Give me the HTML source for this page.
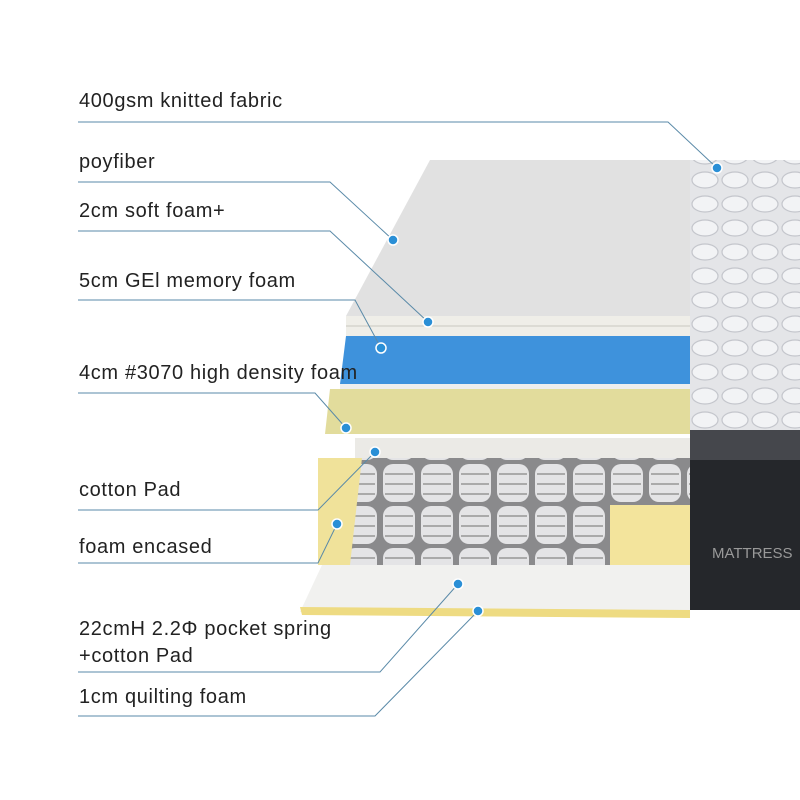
<!DOCTYPE html>
<html><head><meta charset="utf-8"><style>
body{margin:0;background:#fff}
.t{position:absolute;left:79px;font-family:"Liberation Sans",sans-serif;font-size:20px;color:#222;letter-spacing:0.65px}
</style></head><body>
<div style="position:relative;width:800px;height:800px;overflow:hidden">
<svg width="800" height="800" style="position:absolute;left:0;top:0">
<defs>
<pattern id="q" width="30" height="24" patternUnits="userSpaceOnUse">
<rect width="30" height="24" fill="#e4e5e8"/>
<ellipse cx="15" cy="12" rx="13" ry="8" fill="#f2f3f5" stroke="#c4c6cc" stroke-width="1.2"/>
</pattern>
<pattern id="s" width="38" height="42" patternUnits="userSpaceOnUse">
<rect width="38" height="42" fill="#8a8a8c"/>
<rect x="3" y="2" width="32" height="38" rx="10" fill="#e4e4e6"/>
<line x1="5" y1="12" x2="33" y2="12" stroke="#aaa" stroke-width="2"/>
<line x1="5" y1="22" x2="33" y2="22" stroke="#aaa" stroke-width="2"/>
<line x1="5" y1="32" x2="33" y2="32" stroke="#aaa" stroke-width="2"/>
</pattern>
</defs>
<rect x="690" y="160" width="110" height="275" fill="url(#q)"/>
<rect x="690" y="430" width="110" height="30" fill="#45474c"/>
<rect x="690" y="460" width="110" height="150" fill="#25272b"/>
<text x="712" y="558" font-family="Liberation Sans" font-size="15" fill="#999">MATTRESS</text>
<polygon points="430,160 690,160 690,316 346,316" fill="#e1e1e1"/>
<rect x="346" y="316" width="344" height="20" fill="#efeee8"/>
<line x1="346" y1="326" x2="690" y2="326" stroke="#c9c8c0"/>
<polygon points="346,336 690,336 690,384 340,384" fill="#3e92dc"/>
<rect x="340" y="384" width="350" height="5" fill="#eee"/>
<polygon points="330,389 690,389 690,434 325,434" fill="#e2dc9c"/>
<rect x="325" y="434" width="365" height="4" fill="#fff"/>
<rect x="355" y="438" width="335" height="20" fill="#ebeae6"/>
<rect x="350" y="458" width="340" height="130" fill="url(#s)"/>
<polygon points="318,458 362,458 350,565 318,565" fill="#f0e29a"/>
<rect x="610" y="505" width="80" height="105" fill="#f3e49c"/>
<polygon points="322,565 690,565 690,615 300,612" fill="#f1f1ef"/>
<polygon points="300,607 690,610 690,618 302,615" fill="#eedb82"/>
<g stroke="#5a8aa8" stroke-width="1" fill="none">
<polyline points="78,122 668,122 717,168"/>
<polyline points="78,182 330,182 393,240"/>
<polyline points="78,231 330,231 428,322"/>
<polyline points="78,300 355,300 381,348"/>
<polyline points="78,393 315,393 346,428"/>
<polyline points="78,510 318,510 375,452"/>
<polyline points="78,563 318,563 337,524"/>
<polyline points="78,672 380,672 458,584"/>
<polyline points="78,716 375,716 478,611"/>
</g>
<g fill="#2a8fd6" stroke="#fff" stroke-width="1.5">
<circle cx="717" cy="168" r="5"/><circle cx="393" cy="240" r="5"/>
<circle cx="428" cy="322" r="5"/><circle cx="381" cy="348" r="5"/>
<circle cx="346" cy="428" r="5"/><circle cx="375" cy="452" r="5"/>
<circle cx="337" cy="524" r="5"/><circle cx="458" cy="584" r="5"/>
<circle cx="478" cy="611" r="5"/>
</g>
</svg>
<div class="t" style="top:90px">400gsm knitted fabric</div>
<div class="t" style="top:151px">poyfiber</div>
<div class="t" style="top:200px">2cm soft foam+</div>
<div class="t" style="top:270px">5cm GEl memory foam</div>
<div class="t" style="top:362px">4cm #3070 high density foam</div>
<div class="t" style="top:479px">cotton Pad</div>
<div class="t" style="top:536px">foam encased</div>
<div class="t" style="top:618px">22cmH 2.2Φ pocket spring</div>
<div class="t" style="top:645px">+cotton Pad</div>
<div class="t" style="top:686px">1cm quilting foam</div>
</div>
</body></html>
